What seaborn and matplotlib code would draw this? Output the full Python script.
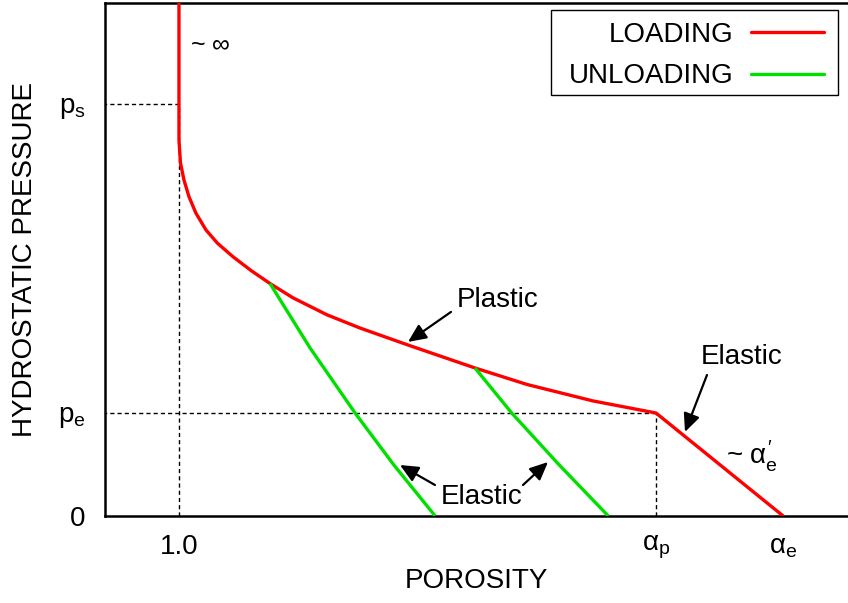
import matplotlib
matplotlib.use("Agg")
import matplotlib.pyplot as plt
from matplotlib.lines import Line2D
from matplotlib.patches import Rectangle
import seaborn as sns
import pandas as pd

# Loading path: solid-density wall, plastic compaction, elastic branch
loading_x = [1.0, 1.0, 1.00236, 1.00786, 1.01572, 1.02673, 1.04245, 1.06053,
             1.08490, 1.11399, 1.14308, 1.17924, 1.23270, 1.28459, 1.36006,
             1.46540, 1.54716, 1.65093, 1.75, 1.95]
loading_y = [5.0, 3.650, 3.427, 3.262, 3.100, 2.939, 2.777, 2.648,
             2.517, 2.380, 2.257, 2.118, 1.953, 1.825, 1.660,
             1.437, 1.277, 1.117, 1.0, 0.0]

# Elastic unloading paths from two points on the plastic curve
unload1_x = [1.14308, 1.20613, 1.27689, 1.33789, 1.40283]
unload1_y = [2.257, 1.631, 1.0, 0.495, 0.0]
unload2_x = [1.46540, 1.52311, 1.59795, 1.67500]
unload2_y = [1.437, 1.0, 0.495, 0.0]

# Characteristic values
alpha_s = 1.0     # fully dense
alpha_p = 1.75    # onset of plastic compaction
alpha_e = 1.95    # initial porosity
p_e = 1.0         # elastic limit pressure
p_s = 4.0         # full compaction pressure

x_ticks = [alpha_s, alpha_p, alpha_e]
x_ticklabels = ["1.0", r"$\alpha_\mathregular{p}$", r"$\alpha_\mathregular{e}$"]
y_ticks = [0.0, p_e, p_s]
y_ticklabels = ["0", r"$\mathregular{p_e}$", r"$\mathregular{p_s}$"]

sns.set_style("white")
plt.rcParams["font.family"] = ["Liberation Sans", "DejaVu Sans"]
plt.rcParams["mathtext.fontset"] = "custom"
plt.rcParams["mathtext.rm"] = "Liberation Sans"
plt.rcParams["mathtext.it"] = "Liberation Sans"
plt.rcParams["mathtext.sf"] = "Liberation Sans"
for key in ["text.color", "axes.labelcolor", "xtick.color", "ytick.color"]:
    plt.rcParams[key] = "black"

frames = [
    pd.DataFrame({"x": loading_x, "y": loading_y, "path": "load", "kind": "LOADING"}),
    pd.DataFrame({"x": unload1_x, "y": unload1_y, "path": "unload1", "kind": "UNLOADING"}),
    pd.DataFrame({"x": unload2_x, "y": unload2_y, "path": "unload2", "kind": "UNLOADING"}),
]
df = pd.concat(frames, ignore_index=True)

fig = plt.figure(figsize=(8.48, 6.03), dpi=100)
ax = fig.add_axes([105 / 848, 87 / 603, 743 / 848, 513 / 603])

# Reference dashed guides
guide = dict(color="black", lw=1.0, dashes=(3, 2.2), zorder=1)
ax.plot([0.8, alpha_s], [p_s, p_s], **guide)
ax.plot([alpha_s, alpha_s], [0, p_s], **guide)
ax.plot([0.8, alpha_p], [p_e, p_e], **guide)
ax.plot([alpha_p, alpha_p], [0, p_e], **guide)

sns.lineplot(data=df, x="x", y="y", hue="kind", units="path", estimator=None,
             sort=False, palette={"LOADING": "#ff0000", "UNLOADING": "#00e000"},
             lw=2.4, ax=ax, zorder=3, legend=False)
for ln in ax.lines[-3:]:
    ln.set_solid_joinstyle("round")
    ln.set_solid_capstyle("butt")

ax.set_xlim(0.8837, 2.0519)
ax.set_ylim(0, 4.98)

ax.set_xticks(x_ticks)
ax.set_xticklabels(x_ticklabels)
ax.set_yticks(y_ticks)
ax.set_yticklabels(y_ticklabels)
ax.tick_params(axis="both", direction="in", length=6, width=1.5, labelsize=20)
ax.tick_params(axis="x", pad=13)
ax.tick_params(axis="y", pad=14)

ax.set_xlabel("POROSITY", fontsize=20, labelpad=5)
ax.set_ylabel("HYDROSTATIC PRESSURE", fontsize=20, labelpad=14)

for side in ["left", "bottom", "top"]:
    ax.spines[side].set_visible(True)
    ax.spines[side].set_linewidth(1.8)
    ax.spines[side].set_color("black")
ax.spines["right"].set_visible(False)

# Legend: labels on the left, samples on the right, inside a plain box
handles = [Line2D([], [], color="#ff0000", lw=2.4),
           Line2D([], [], color="#00e000", lw=2.4)]
leg = ax.legend(handles, ["LOADING", "UNLOADING"], loc="upper right",
                bbox_to_anchor=(0.984, 0.987), markerfirst=False, fontsize=20,
                frameon=False, handlelength=2.6, handletextpad=0.65,
                borderpad=0.45, labelspacing=0.55, borderaxespad=0)
ax.add_patch(Rectangle((0.6003, 0.8207), 0.3862, 0.1657, transform=ax.transAxes,
                       facecolor="white", edgecolor="black", lw=1.0, zorder=4))
leg.set_zorder(5)

# Annotations
arrow = dict(arrowstyle="-|>,head_length=0.55,head_width=0.25", color="black",
             lw=1.6, mutation_scale=20, shrinkA=0, shrinkB=0)
ax.text(1.5016, 2.097, "Plastic", fontsize=20, ha="center", va="center")
ax.annotate("", xy=(1.3601, 1.690), xytext=(1.4277, 1.981), arrowprops=arrow)

ax.text(1.8852, 1.544, "Elastic", fontsize=20, ha="center", va="center")
ax.annotate("", xy=(1.7956, 0.816), xytext=(1.8302, 1.369), arrowprops=arrow)

ax.text(1.4764, 0.180, "Elastic", fontsize=20, ha="center", va="center")
ax.annotate("", xy=(1.3475, 0.495), xytext=(1.4025, 0.301), arrowprops=arrow)
ax.annotate("", xy=(1.5802, 0.524), xytext=(1.5409, 0.301), arrowprops=arrow)

ax.text(1.0487, 4.573, r"~ $\infty$", fontsize=18, ha="center", va="center")
ax.text(1.9009, 0.583, r"~ $\alpha_{\mathregular{e}}^{\prime}$", fontsize=20,
        ha="center", va="center")

fig.savefig("out.png", dpi=100)
